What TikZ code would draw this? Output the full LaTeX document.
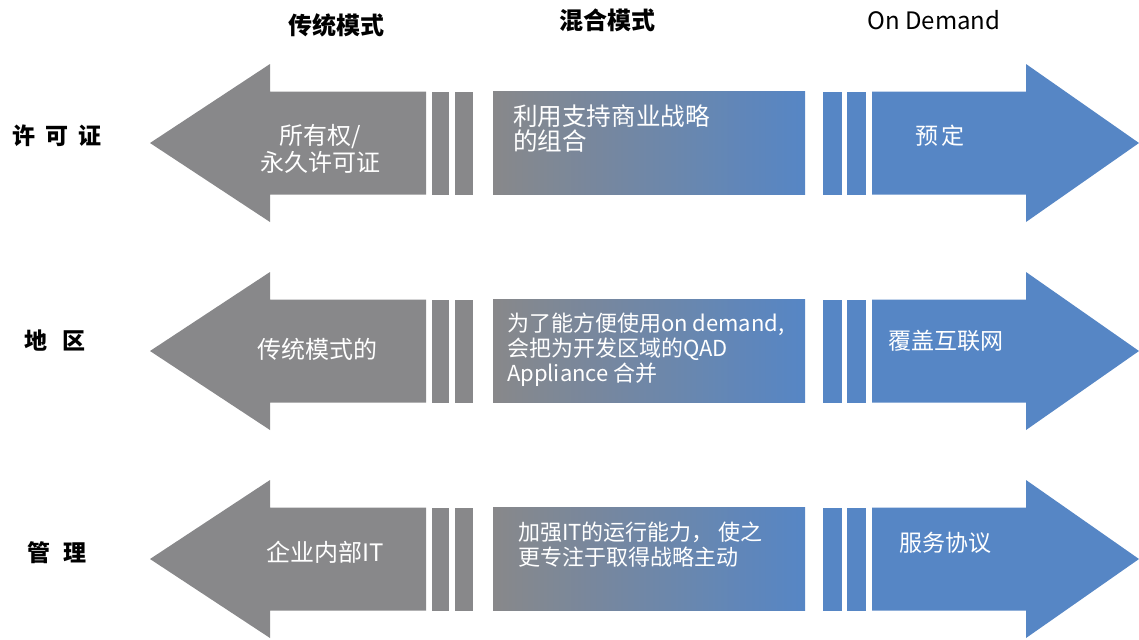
\documentclass[tikz,border=0pt]{standalone}
\usepackage{fontspec}
\setmainfont{Noto Sans CJK SC}
\definecolor{tradgray}{RGB}{136,136,138}
\definecolor{demandblue}{RGB}{86,134,197}

\begin{document}
\begin{tikzpicture}[x=0.5pt,y=-0.5pt,
    header/.style={font=\bfseries\fontsize{12}{14}\selectfont, text=black},
    rowname/.style={font=\bfseries\fontsize{11.5}{14}\selectfont, text=black},
    intext/.style={font=\fontsize{12}{13.5}\selectfont, text=white, align=center},
    mixtext/.style={font=\fontsize{11}{12.5}\selectfont, text=white, align=left, anchor=west},
    odtext/.style={font=\fontsize{11.5}{13.5}\selectfont, text=white}]
    \useasboundingbox (0,0) rectangle (1139,639);

    % Column headings
    \node[header] (hdTrad) at (336,25) {传统模式};
    \node[header] (hdMix) at (607,20) {混合模式};
    \node[header, font=\fontsize{12}{14}\selectfont] (hdOnDemand) at (934,20) {On Demand};

    % Row names
    \node[rowname] (rowLicense) at (57,136) {许\hspace{0.45em}可\hspace{0.45em}证};
    \node[rowname] (rowRegion) at (55,341) {地\hspace{0.65em}区};
    \node[rowname] (rowManage) at (57,553) {管\hspace{0.6em}理};

    % The three rows of arrows
    \foreach \c in {143,351,559} {
        % traditional model, pointing left
        \fill[tradgray] (150,\c) -- (270,{\c-79}) -- (270,{\c-51.5}) -- (426,{\c-51.5})
            -- (426,{\c+51.5}) -- (270,{\c+51.5}) -- (270,{\c+79}) -- cycle;
        \fill[tradgray] (432,{\c-51.5}) rectangle (449,{\c+51.5});
        \fill[tradgray] (455,{\c-51.5}) rectangle (473,{\c+51.5});

        % hybrid model, gray into blue
        \shade[left color=tradgray, right color=demandblue] (493,{\c-51.5}) rectangle (805,{\c+51.5});

        % on demand, pointing right
        \fill[demandblue] (823,{\c-51.5}) rectangle (842,{\c+51.5});
        \fill[demandblue] (847,{\c-51.5}) rectangle (866,{\c+51.5});
        \fill[demandblue] (872,{\c-51.5}) -- (1026,{\c-51.5}) -- (1026,{\c-79}) -- (1139,\c)
            -- (1026,{\c+79}) -- (1026,{\c+51.5}) -- (872,{\c+51.5}) -- cycle;
    }

    % Texts in the arrows
    \node[intext] (tradLicense) at (320,149) {所有权/\\永久许可证};
    \node[intext] (tradRegion) at (317,349) {传统模式的};
    \node[intext] (tradManage) at (325,552) {企业内部IT};

    \node[mixtext, font=\fontsize{12.3}{12.5}\selectfont] (mixLicense) at (506,129) {利用支持商业战略\\的组合};
    \node[mixtext] (mixRegion) at (500,350) {为了能方便使用on demand,\\会把为开发区域的QAD\\Appliance 合并};
    \node[mixtext] (mixManage) at (511,545) {加强IT的运行能力， 使之\\更专注于取得战略主动};

    \node[odtext] (odLicense) at (940,136) {预\,定};
    \node[odtext] (odRegion) at (946,341) {覆盖互联网};
    \node[odtext] (odManage) at (945,543) {服务协议};
\end{tikzpicture}
\end{document}
